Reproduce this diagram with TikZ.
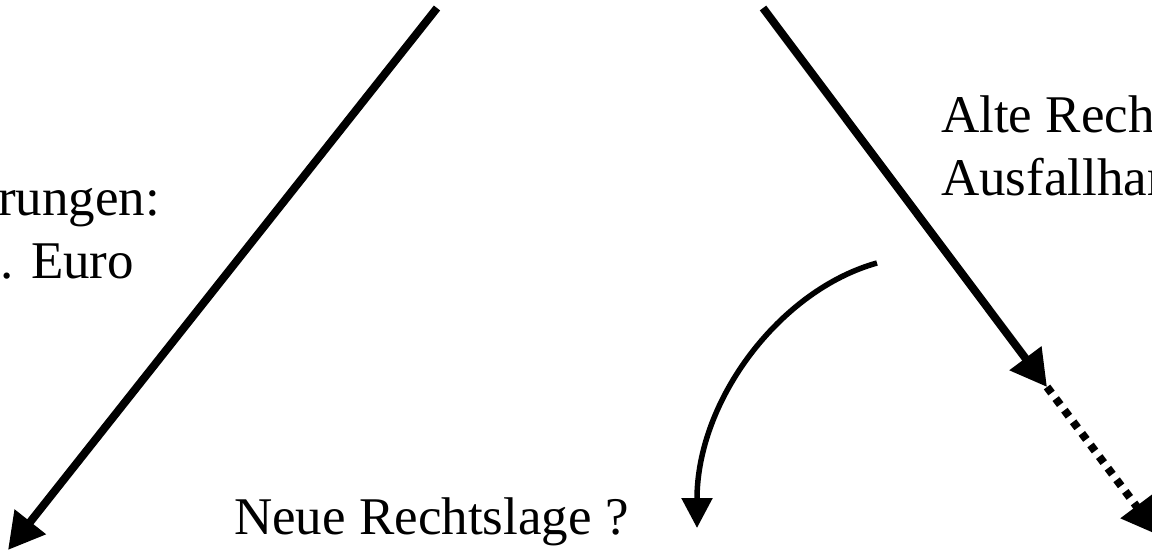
\documentclass[tikz,border=0pt]{standalone}
\usepackage{fontspec}
\setmainfont{Liberation Serif}
\usepackage{tikz}
\usetikzlibrary{arrows.meta}

\begin{document}
\begin{tikzpicture}[
x=1pt,y=-1pt,
arrow/.style={-{Triangle[length=36pt,width=38pt]},line width=8pt},
dotarrow/.style={arrow,dash pattern=on 7.5pt off 7pt},
bendarrow/.style={-{Triangle[length=30pt,width=30pt]},line width=5.5pt},
txt/.style={inner sep=0pt,anchor=base west,font=\fontsize{53}{63}\selectfont}
]
\useasboundingbox (0,0) rectangle (1152,553);
\clip (0,0) rectangle (1152,553);
\coordinate (ltop) at (437,8);
\coordinate (lend) at (8,550);
\coordinate (rtop) at (763,8);
\coordinate (rmid) at (1047,387);
\coordinate (rend) at (1158,535);
\coordinate (cstart) at (877,263);
\coordinate (cend) at (697,528);
\node[txt] (claims) at (-2,216) {rungen:};
\node[txt] (euro) at (0,279) {. Euro};
\node[txt] (old) at (941,133) {Alte Rech};
\node[txt] (loss) at (941,196) {Ausfallhar};
\node[txt] (new) at (234,534) {Neue Rechtslage ?};
\draw[arrow] (ltop)--(lend);
\draw[arrow] (rtop)--(rmid);
\draw[dotarrow] (rmid)--(rend);
\draw[bendarrow] (cstart) .. controls (780,290) and (697,400) .. (cend);
\end{tikzpicture}
\end{document}
